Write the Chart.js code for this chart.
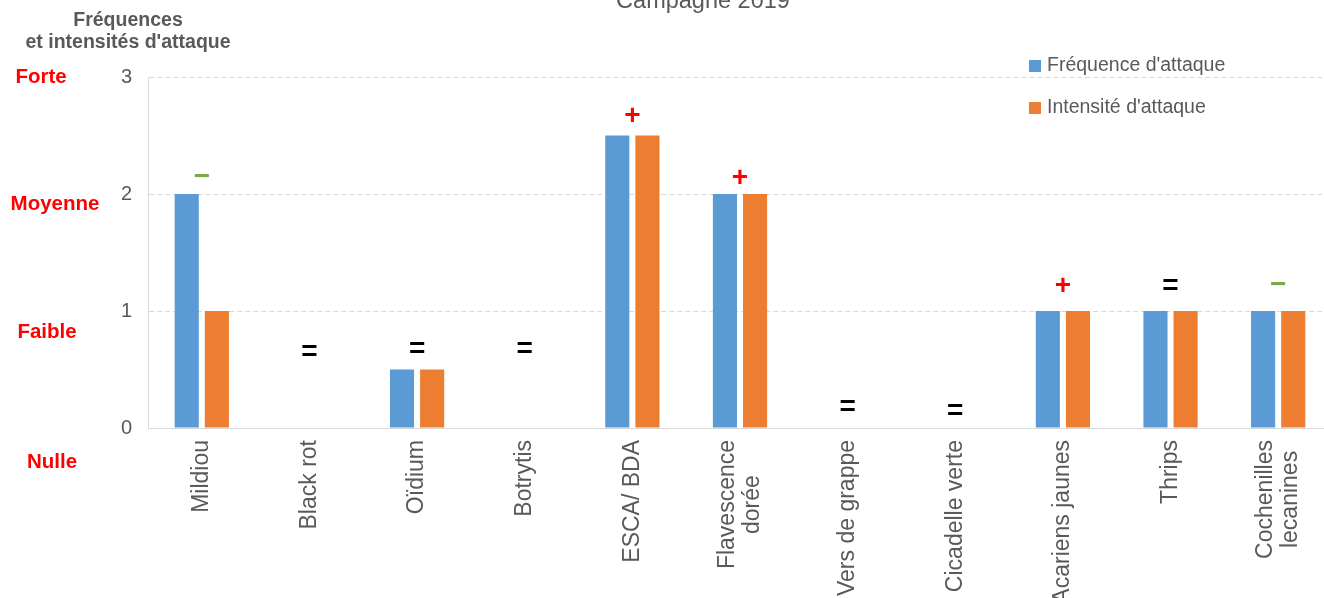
<!DOCTYPE html>
<html>
<head>
<meta charset="utf-8">
<script src="https://cdn.jsdelivr.net/npm/chart.js@4"></script>
<style>
html, body { margin: 0; padding: 0; overflow: hidden; background: #fff; }
canvas { display: block; }
</style>
</head>
<body>
<canvas id="bar-chart" width="1332" height="598"></canvas>
<script>
const categories = ['Mildiou', 'Black rot', 'Oïdium', 'Botrytis', 'ESCA/ BDA', ['Flavescence', 'dorée'],
  'Vers de grappe', 'Cicadelle verte', 'Acariens jaunes', 'Thrips', ['Cochenilles', 'lecanines']]
const frequenceValues = [2, 0, 0.5, 0, 2.5, 2, 0, 0, 1, 1, 1]
const intensiteValues = [1, 0, 0.5, 0, 2.5, 2, 0, 0, 1, 1, 1]
const trendSymbols = ['−', '=', '=', '=', '+', '+', '=', '=', '+', '=', '−']
const trendLevels = [2.16, 0.66, 0.69, 0.69, 2.68, 2.15, 0.19, 0.16, 1.23, 1.23, 1.24]
const levelLabels = ['Forte', 'Moyenne', 'Faible', 'Nulle']
const levelValues = [3, 1.91, 0.82, -0.29]

const textGrey = '#595959'
const fontFamily = '"Liberation Sans", Arial, sans-serif'
const trendColors = { '+': '#ff0000', '=': '#000000', '−': '#70ad47' }

const decorPlugin = {
  id: 'decor',
  afterDraw (chart) {
    const ctx = chart.ctx
    const xScale = chart.scales.x
    const yScale = chart.scales.y
    ctx.save()

    // titre coupé en haut
    ctx.fillStyle = textGrey
    ctx.textAlign = 'center'
    ctx.textBaseline = 'alphabetic'
    ctx.font = '23.5px ' + fontFamily
    ctx.fillText('Campagne 2019', 703, 8)

    // titre de l'axe
    ctx.font = 'bold 19.5px ' + fontFamily
    ctx.textBaseline = 'middle'
    ctx.fillText('Fréquences', 128, 21)
    ctx.fillText("et intensités d'attaque", 128, 43)

    // niveaux en rouge
    const levelX = [41, 55, 47, 52]
    ctx.fillStyle = '#ff0000'
    ctx.font = 'bold 20.5px ' + fontFamily
    for (let i = 0; i < levelLabels.length; i++) {
      ctx.fillText(levelLabels[i], levelX[i], yScale.getPixelForValue(levelValues[i]))
    }

    // tendances
    ctx.font = 'bold 28px ' + fontFamily
    for (let i = 0; i < trendSymbols.length; i++) {
      const s = trendSymbols[i]
      ctx.fillStyle = trendColors[s]
      ctx.fillText(s, xScale.getPixelForValue(i), yScale.getPixelForValue(trendLevels[i]) + 2)
    }

    // étiquettes de l'axe x, lignes centrées entre elles
    ctx.font = '23px ' + fontFamily
    ctx.fillStyle = textGrey
    for (let i = 0; i < categories.length; i++) {
      const lines = [].concat(categories[i])
      let maxW = 0
      lines.forEach(function (l) { maxW = Math.max(maxW, ctx.measureText(l).width) })
      lines.forEach(function (l, j) {
        ctx.save()
        ctx.translate(xScale.getPixelForValue(i) + (j - (lines.length - 1) / 2) * 25, xScale.top + 12)
        ctx.rotate(-Math.PI / 2)
        ctx.fillText(l, -maxW / 2, 0)
        ctx.restore()
      })
    }

    // légende
    ctx.font = '19.5px ' + fontFamily
    ctx.textAlign = 'left'
    chart.data.datasets.forEach(function (ds, i) {
      const y = 66 + i * 42
      ctx.fillStyle = ds.backgroundColor
      ctx.fillRect(1029, y - 6, 12, 12)
      ctx.fillStyle = textGrey
      ctx.fillText(ds.label, 1047, y)
    })
    ctx.restore()
  },
}

const barChartConfig = {
  type: 'bar',
  data: {
    labels: categories,
    datasets: [
      {
        label: "Fréquence d'attaque",
        data: frequenceValues,
        backgroundColor: '#5b9bd5',
        categoryPercentage: 0.56,
        barPercentage: 0.8,
      },
      {
        label: "Intensité d'attaque",
        data: intensiteValues,
        backgroundColor: '#ed7d31',
        categoryPercentage: 0.56,
        barPercentage: 0.8,
      },
    ],
  },
  options: {
    responsive: false,
    animation: false,
    layout: {
      padding: { top: 77, left: 0, right: 0, bottom: 0 },
    },
    plugins: {
      legend: { display: false },
      title: { display: false },
      tooltip: { enabled: false },
    },
    scales: {
      x: {
        grid: { display: false },
        border: { display: true, color: '#d9d9d9' },
        ticks: { display: false },
        afterFit: function (scale) {
          scale.height = 170
        },
      },
      y: {
        min: 0,
        max: 3,
        ticks: {
          stepSize: 1,
          padding: 16,
          color: textGrey,
          font: { family: fontFamily, size: 20 },
        },
        grid: {
          drawTicks: false,
          color: function (c) {
            return c.tick.value === 0 ? 'rgba(0,0,0,0)' : '#d9d9d9'
          },
        },
        border: { display: true, color: '#d9d9d9', dash: [5, 3] },
        afterFit: function (scale) {
          scale.width = 148
        },
      },
    },
  },
  plugins: [decorPlugin],
}

const barChartCanvas = document.getElementById('bar-chart').getContext('2d')
const barChart = new Chart(barChartCanvas, barChartConfig)
</script>
</body>
</html>
